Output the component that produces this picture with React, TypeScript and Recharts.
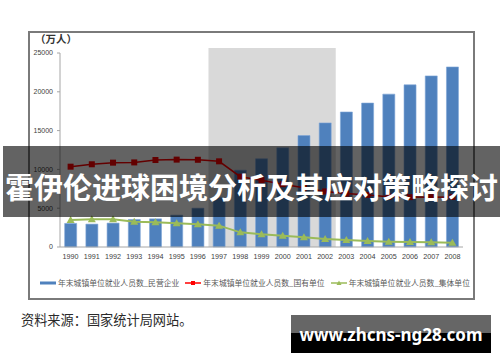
import React from "react";
import {
  ComposedChart,
  Bar,
  Line,
  XAxis,
  YAxis,
  ReferenceArea,
} from "recharts";

const years = [
  "1990", "1991", "1992", "1993", "1994", "1995", "1996", "1997", "1998", "1999",
  "2000", "2001", "2002", "2003", "2004", "2005", "2006", "2007", "2008",
];
const privateEnt = [
  3040, 2950, 3080, 3550, 3630, 4100, 5000, 6400, 9900, 11370,
  12780, 14360, 15990, 17400, 18550, 19700, 20900, 22050, 23200,
];
const stateOwned = [
  10350, 10660, 10870, 10900, 11210, 11260, 11240, 11040, 9060, 8600,
  8100, 7640, 7160, 6880, 6710, 6490, 6430, 6420, 6450,
];
const collective = [
  3480, 3570, 3570, 3260, 3180, 3050, 2930, 2750, 1890, 1630,
  1460, 1250, 1030, 900, 770, 690, 640, 600, 560,
];
const yTicks = [0, 5000, 10000, 15000, 20000, 25000];
const seriesNames = [
  "年末城镇单位就业人员数_民营企业",
  "年末城镇单位就业人员数_国有单位",
  "年末城镇单位就业人员数_集体单位",
];
const shadeFrom = "1997";
const shadeTo = "2002";
const shadeTop = 25650;

const BLUE = "#4f81bd";
const RED = "#ff0000";
const GREEN = "#9bbb59";

const data = years.map((year, i) => ({
  year,
  privateEnt: privateEnt[i],
  stateOwned: stateOwned[i],
  collective: collective[i],
}));

const SquareDot = (props: any) => {
  const { cx, cy, index } = props;
  if (cx == null || cy == null) return null;
  return <rect key={`sq-${index}`} x={cx - 3} y={cy - 3} width={6} height={6} fill={RED} />;
};

const TriangleDot = (props: any) => {
  const { cx, cy, index } = props;
  if (cx == null || cy == null) return null;
  return (
    <path
      key={`tri-${index}`}
      d={`M${cx},${cy - 4} L${cx + 4},${cy + 3} L${cx - 4},${cy + 3} Z`}
      fill={GREEN}
    />
  );
};

function LegendIcon({ kind }: { kind: number }) {
  if (kind === 0) {
    return (
      <svg width={16} height={6}>
        <rect x={0} y={1.5} width={16} height={3} fill={BLUE} />
      </svg>
    );
  }
  const color = kind === 1 ? RED : GREEN;
  return (
    <svg width={16} height={8}>
      <line x1={0} y1={4} x2={16} y2={4} stroke={color} strokeWidth={1.5} />
      {kind === 1 ? (
        <rect x={6} y={2} width={4} height={4} fill={color} />
      ) : (
        <path d="M8,1.5 L10.5,6 L5.5,6 Z" fill={color} />
      )}
    </svg>
  );
}

export default function App() {
  return (
    <div
      style={{
        position: "absolute",
        left: 0,
        top: 0,
        width: 500,
        height: 362,
        background: "#fff",
        overflow: "hidden",
        fontFamily: "'Noto Sans CJK SC', sans-serif",
      }}
    >
      {/* frame */}
      <div
        style={{
          position: "absolute",
          left: 28,
          top: 31,
          width: 443,
          height: 265,
          border: "2px solid #7a7a7a",
        }}
      />
      <div
        style={{
          position: "absolute",
          left: 35,
          top: 31,
          fontSize: 10.5,
          fontWeight: 700,
          color: "#333",
          lineHeight: "16px",
        }}
      >
        （万人）
      </div>

      <div style={{ position: "absolute", left: 0, top: 0 }}>
        <ComposedChart
          width={500}
          height={362}
          data={data}
          margin={{ top: 53, right: 37, bottom: 95, left: 0 }}
          barCategoryGap="22%"
        >
          <ReferenceArea
            x1={shadeFrom}
            x2={shadeTo}
            y1={0}
            y2={shadeTop}
            fill="#d9d9d9"
            fillOpacity={1}
            stroke="none"
            ifOverflow="visible"
          />
          <XAxis
            dataKey="year"
            height={20}
            interval={0}
            tickLine={false}
            tickSize={4}
            tickMargin={3}
            axisLine={{ stroke: "#a6a6a6" }}
            tick={{ fontSize: 7.2, fill: "#404040", fontFamily: "'Liberation Sans', sans-serif" }}
          />
          <YAxis
            width={60}
            domain={[0, 25000]}
            ticks={yTicks}
            interval={0}
            tickSize={3}
            tickMargin={4}
            axisLine={{ stroke: "#a6a6a6" }}
            tickLine={{ stroke: "#a6a6a6" }}
            tick={{ fontSize: 7, fill: "#404040", fontFamily: "'Liberation Sans', sans-serif" }}
          />
          <Bar
            dataKey="privateEnt"
            fill={BLUE}
            stroke="#7fa6d6"
            strokeWidth={0.6}
            isAnimationActive={false}
          />
          <Line
            dataKey="stateOwned"
            stroke={RED}
            strokeWidth={1.5}
            dot={SquareDot}
            activeDot={false}
            isAnimationActive={false}
          />
          <Line
            dataKey="collective"
            stroke={GREEN}
            strokeWidth={2}
            dot={TriangleDot}
            activeDot={false}
            isAnimationActive={false}
          />
        </ComposedChart>
      </div>

      {/* legend */}
      <div
        style={{
          position: "absolute",
          left: 40,
          top: 277,
          display: "flex",
          alignItems: "center",
          fontSize: 7.8,
          color: "#595959",
          lineHeight: "12px",
          whiteSpace: "nowrap",
        }}
      >
        {seriesNames.map((name, i) => (
          <div
            key={name}
            style={{ display: "flex", alignItems: "center", marginRight: i < 2 ? 6 : 0 }}
          >
            <LegendIcon kind={i} />
            <span style={{ marginLeft: 2 }}>{name}</span>
          </div>
        ))}
      </div>

      <div
        style={{
          position: "absolute",
          left: 21,
          top: 311,
          fontSize: 13.2,
          color: "#2a2a2a",
          lineHeight: "18px",
          whiteSpace: "nowrap",
        }}
      >
        资料来源：国家统计局网站。
      </div>

      {/* title banner */}
      <div
        style={{
          position: "absolute",
          left: 3,
          top: 146,
          width: 497,
          height: 71,
          background: "rgba(0,0,0,0.61)",
        }}
      />
      <div
        style={{
          position: "absolute",
          left: 3,
          top: 166,
          width: 497,
          textAlign: "center",
          fontSize: 29,
          fontWeight: 700,
          color: "#fff",
          lineHeight: "40px",
          whiteSpace: "nowrap",
        }}
      >
        霍伊伦进球困境分析及其应对策略探讨
      </div>

      {/* watermark */}
      <div
        style={{
          position: "absolute",
          left: 291,
          top: 315,
          width: 200,
          height: 38,
          background: "linear-gradient(#666 0, #666 18px, #000 18px, #000 100%)",
        }}
      />
      <div
        style={{
          position: "absolute",
          left: 291,
          top: 323,
          width: 200,
          textAlign: "center",
          fontSize: 17,
          fontWeight: 700,
          color: "#fff",
          lineHeight: "24px",
          fontFamily: "'Noto Sans', sans-serif",
          whiteSpace: "nowrap",
        }}
      >
        www.zhcns-ng28.com
      </div>
    </div>
  );
}
